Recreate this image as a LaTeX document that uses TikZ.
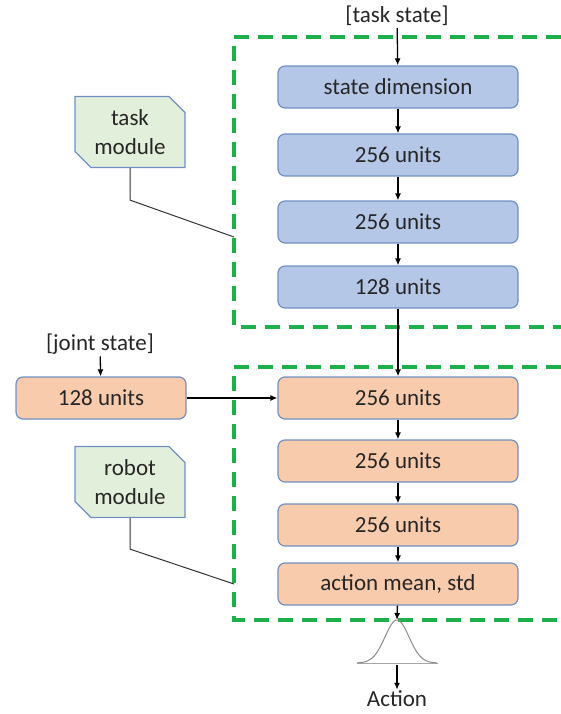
\documentclass[tikz,border=0pt]{standalone}
\usepackage{fontspec}
\setmainfont{Carlito}
\usepackage{xcolor}
\usetikzlibrary{arrows.meta,positioning,shapes.misc}

\definecolor{taskfill}{HTML}{B4C7E7}
\definecolor{robotfill}{HTML}{F8CBAD}
\definecolor{modfill}{HTML}{E2EFDA}
\definecolor{unitedge}{HTML}{7090C4}
\definecolor{frameg}{HTML}{1DB04B}
\definecolor{inktext}{HTML}{262626}

\tikzset{
  unitbox/.style={draw=unitedge,line width=1.2pt,rounded corners=7pt,
    minimum width=240pt,minimum height=42pt,inner sep=0pt,text=inktext},
  taskunit/.style={unitbox,fill=taskfill},
  robotunit/.style={unitbox,fill=robotfill},
  modtag/.style={draw=unitedge,line width=1.2pt,fill=modfill,text=inktext,
    chamfered rectangle,chamfered rectangle corners={north east,south west},
    chamfered rectangle xsep=8pt,chamfered rectangle ysep=8pt,
    minimum width=110pt,minimum height=71pt,inner sep=0pt,align=center},
  frame/.style={draw=frameg,line width=3.5pt,dash pattern=on 15pt off 9pt},
  flow/.style={-{Latex[length=7pt,width=6pt]},line width=1.3pt},
  tag/.style={inner sep=2pt,text=inktext},
}

\begin{document}
\begin{tikzpicture}[x=1pt,y=-1pt,font=\fontsize{23}{29}\selectfont]
\useasboundingbox (0,0) rectangle (561,714);

% module frames
\draw[frame] (561,37) -- (234,37) -- (234,327) -- (561,327);
\draw[frame] (561,367) -- (234,367) -- (234,620) -- (561,620);

% task module
\node[tag] (taskin) at (397,16) {[task state]};
\node[taskunit] (t1) at (398,87) {state dimension};
\node[taskunit] (t2) at (398,155) {256 units};
\node[taskunit] (t3) at (398,222) {256 units};
\node[taskunit] (t4) at (398,287) {128 units};
\draw[flow] (taskin) -- (t1);
\draw[flow] (t1) -- (t2);
\draw[flow] (t2) -- (t3);
\draw[flow] (t3) -- (t4);

% robot module
\node[tag] (jointin) at (100,344) {[joint state]};
\node[robotunit,minimum width=170pt] (j1) at (101,398) {128 units};
\node[robotunit] (r1) at (398,398) {256 units};
\node[robotunit] (r2) at (398,461) {256 units};
\node[robotunit] (r3) at (398,525) {256 units};
\node[robotunit] (r4) at (398,584) {action mean, std};
\draw[flow] (jointin) -- (j1);
\draw[flow,line width=1.7pt] (t4) -- (r1);
\draw[flow,line width=1.7pt] (j1) -- (r1);
\draw[flow] (r1) -- (r2);
\draw[flow] (r2) -- (r3);
\draw[flow] (r3) -- (r4);

% labels of the two modules
\node[modtag] (taskmod) at (130,132) {task\\module};
\node[modtag] (robotmod) at (130,482) {robot\\module};
\coordinate (taskhook) at (234,237);
\coordinate (robothook) at (234,584);
\draw[line width=1pt,black!80] (taskmod.south) -- ++(0,32) -- (taskhook);
\draw[line width=1pt,black!80] (robotmod.south) -- ++(0,31) -- (robothook);

% output distribution
\coordinate (peak) at (397,620);
\coordinate (base) at (397,665);
\draw[flow] (r4) -- (peak);
\draw[black!35,line width=1pt] (357,663) -- (438,663);
\draw[black!45,line width=1pt,smooth,domain=-40:40,samples=60]
  plot ({397+\x},{663-43*exp(-(\x*\x)/(2*12*12))});
\node[tag,inner sep=1pt] (act) at (397,699) {Action};
\draw[flow] (base) -- (act);
\end{tikzpicture}
\end{document}
